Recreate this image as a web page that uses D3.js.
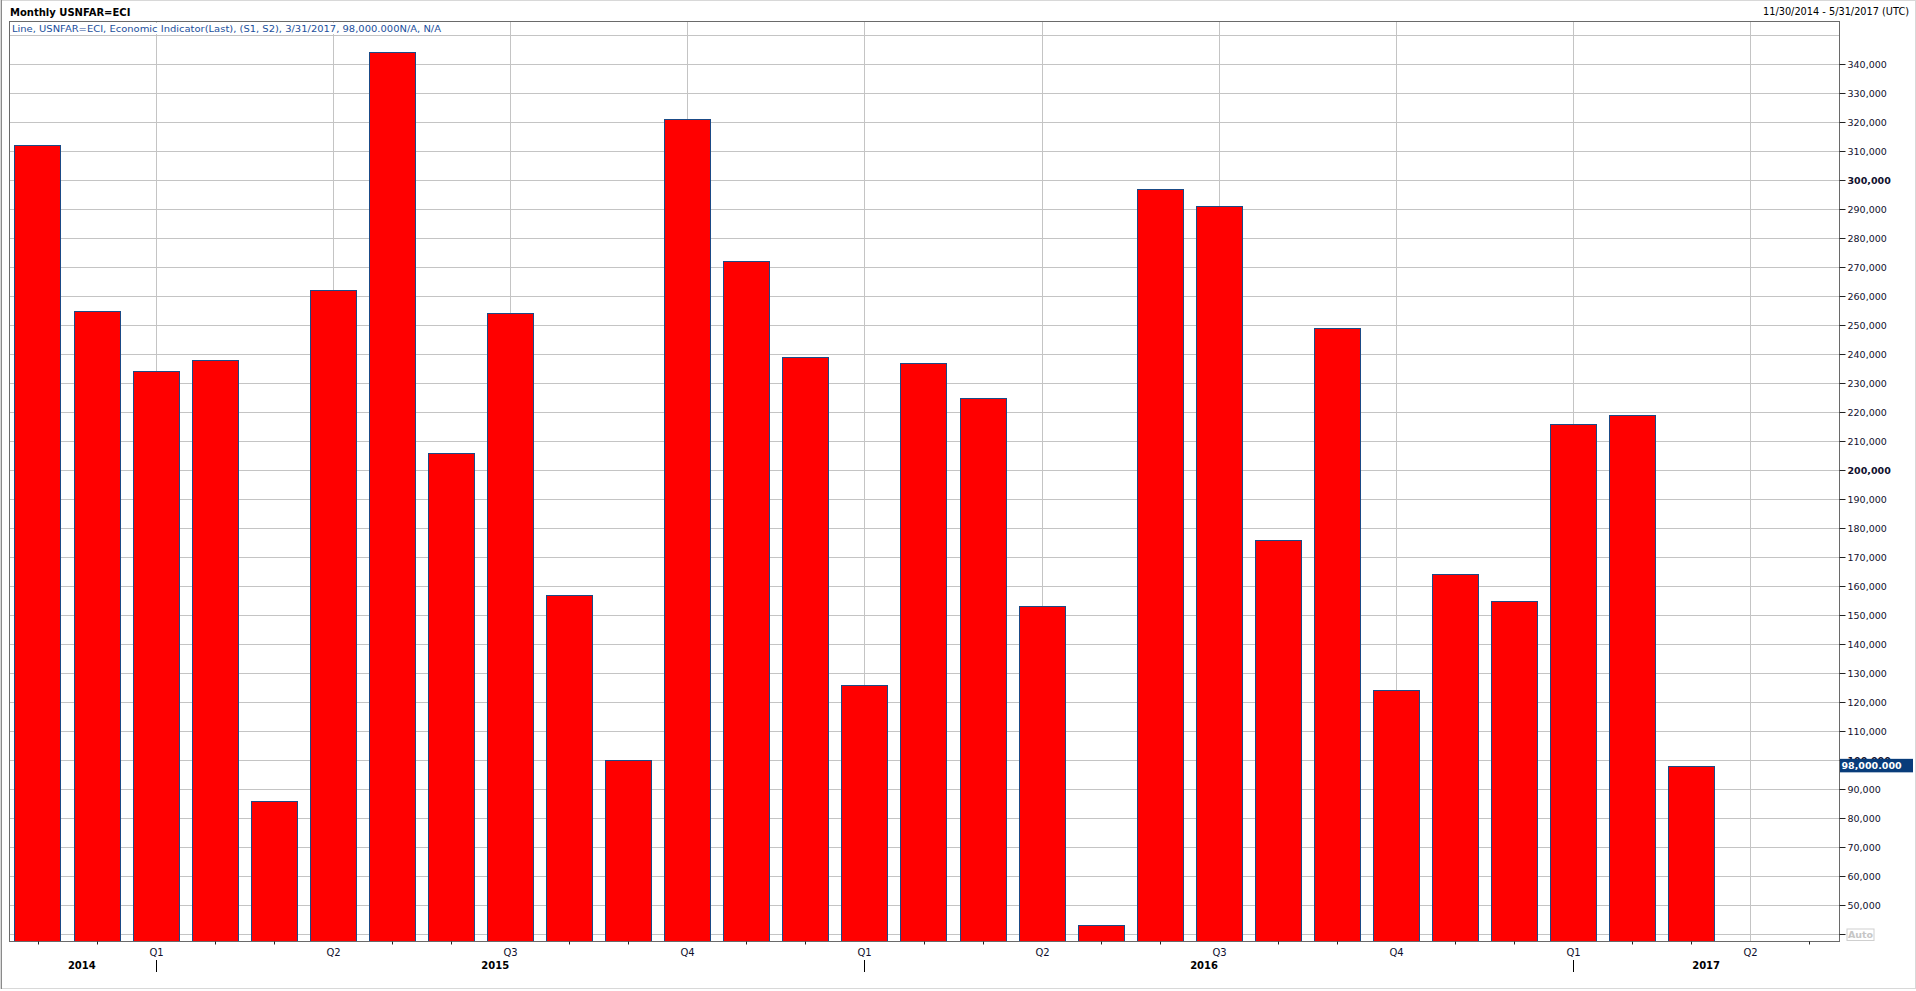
<!DOCTYPE html>
<html>
<head>
<meta charset="utf-8">
<script src="https://cdn.jsdelivr.net/npm/d3@7"></script>
<style>
  html, body { margin: 0; padding: 0; background: #fff; }
  svg { display: block; }
  text { font-family: "DejaVu Sans", Verdana, sans-serif; }
</style>
</head>
<body>
<svg id="chart" width="1916" height="991"></svg>
<script>
// ---------- data ----------
const months = ["2014-11","2014-12","2015-01","2015-02","2015-03","2015-04","2015-05","2015-06",
  "2015-07","2015-08","2015-09","2015-10","2015-11","2015-12","2016-01","2016-02","2016-03",
  "2016-04","2016-05","2016-06","2016-07","2016-08","2016-09","2016-10","2016-11","2016-12",
  "2017-01","2017-02","2017-03","2017-04","2017-05"];
const payrolls = [312000, 255000, 234000, 238000, 86000, 262000, 344000, 206000, 254000,
  157000, 100000, 321000, 272000, 239000, 126000, 237000, 225000, 153000, 43000, 297000,
  291000, 176000, 249000, 124000, 164000, 155000, 216000, 219000, 98000];
const quarterLabels = ["Q1", "Q2", "Q3", "Q4"];
const yLabelTicks = d3.range(50000, 340001, 10000);
const yGridTicks = d3.range(40000, 350001, 10000);
const autoTick = 40000;
const titleText = "Monthly USNFAR=ECI";
const legendText = "Line, USNFAR=ECI, Economic Indicator(Last), (S1, S2), 3/31/2017, 98,000.000N/A, N/A";
const rangeText = "11/30/2014 - 5/31/2017 (UTC)";
const lastValueText = "98,000.000";

// ---------- layout ----------
const plot = { left: 9.5, right: 1839.5, top: 21.5, bottom: 941.5 };
const svg = d3.select("#chart");

const x = d3.scaleBand().domain(months).range([8, 1839])
  .paddingInner(0.22).paddingOuter(0.11);
const y = d3.scaleLinear().domain([37600, 354600]).range([941, 21.7]);

const bars = payrolls.map((v, i) => ({ month: months[i], value: v }));
const center = m => x(m) + x.bandwidth() / 2;
const monthNum = m => +m.slice(5);
const quarterMonths = months.filter(m => (monthNum(m) - 1) % 3 === 0);
const otherMonths = months.filter(m => (monthNum(m) - 1) % 3 !== 0);

// outer frame
svg.append("rect").attr("x", 0.5).attr("y", 0.5).attr("width", 1915).attr("height", 988)
  .attr("fill", "none").attr("stroke", "#d8d8d8");
svg.append("line").attr("x1", 1.5).attr("x2", 1.5).attr("y1", 0).attr("y2", 989)
  .attr("stroke", "#8a8a8a");

// header texts
svg.append("text").attr("x", 10).attr("y", 15.5).attr("font-size", 10).attr("font-weight", "bold")
  .attr("fill", "#000").text(titleText);
svg.append("text").attr("x", 1909).attr("y", 15).attr("font-size", 10).attr("text-anchor", "end")
  .attr("fill", "#000").attr("textLength", 146).attr("lengthAdjust", "spacingAndGlyphs").text(rangeText);

// gridlines
const grid = svg.append("g");
grid.selectAll("line.h").data(yGridTicks).join("line")
  .attr("x1", plot.left).attr("x2", plot.right)
  .attr("y1", d => Math.round(y(d)) + 0.5).attr("y2", d => Math.round(y(d)) + 0.5)
  .attr("stroke", "#c4c4c4");
grid.selectAll("line.v").data(quarterMonths).join("line")
  .attr("x1", d => Math.round(center(d)) + 0.5).attr("x2", d => Math.round(center(d)) + 0.5)
  .attr("y1", plot.top).attr("y2", plot.bottom)
  .attr("stroke", "#c4c4c4");

// legend with white background
svg.append("rect").attr("x", 11).attr("y", 23).attr("width", 433).attr("height", 11).attr("fill", "#fff");
svg.append("text").attr("x", 12).attr("y", 31.5).attr("font-size", 9.5).attr("fill", "#1c4f9c")
  .attr("textLength", 429).attr("lengthAdjust", "spacingAndGlyphs").text(legendText);

// bars
svg.append("g").selectAll("rect").data(bars).join("rect")
  .attr("x", d => Math.round(x(d.month)) + 0.5)
  .attr("width", Math.round(x.bandwidth()))
  .attr("y", d => Math.round(y(d.value)) + 0.5)
  .attr("height", d => plot.bottom - (Math.round(y(d.value)) + 0.5))
  .attr("fill", "#ff0000").attr("stroke", "#1b4a86").attr("stroke-width", 1);

// plot frame
svg.append("rect").attr("x", plot.left).attr("y", plot.top)
  .attr("width", plot.right - plot.left).attr("height", plot.bottom - plot.top)
  .attr("fill", "none").attr("stroke", "#6a6a6a");

// y axis (right)
const yAxis = d3.axisRight(y).tickValues(yLabelTicks).tickSize(6).tickPadding(2)
  .tickFormat(d3.format(","));
const yg = svg.append("g").attr("transform", `translate(${plot.right},0)`).call(yAxis);
yg.select(".domain").remove();
yg.selectAll(".tick").attr("transform", d => `translate(0,${Math.round(y(d)) + 0.5})`);
yg.selectAll(".tick line").attr("stroke", "#222");
yg.selectAll(".tick text").attr("font-family", "DejaVu Sans, sans-serif").attr("font-size", 9.5)
  .attr("fill", "#10102e").attr("font-weight", d => d % 100000 === 0 ? "bold" : "normal");

// Auto tick
const ay = Math.round(y(autoTick)) + 0.5;
svg.append("line").attr("x1", plot.right).attr("x2", plot.right + 6).attr("y1", ay).attr("y2", ay).attr("stroke", "#222");
svg.append("rect").attr("x", 1847).attr("y", ay - 5.5).attr("width", 27).attr("height", 11.5)
  .attr("fill", "#fff").attr("stroke", "#cfcfcf");
svg.append("text").attr("x", 1860.5).attr("y", ay + 3.5).attr("text-anchor", "middle")
  .attr("font-size", 9.5).attr("font-weight", "bold").attr("fill", "#c6c6c6").text("Auto");

// last value box
const lastY = y(payrolls[payrolls.length - 1]);
svg.append("rect").attr("x", plot.right + 0.5).attr("y", lastY - 7).attr("width", 73).attr("height", 13.5)
  .attr("fill", "#083c7a");
svg.append("text").attr("x", plot.right + 2).attr("y", lastY + 3.5).attr("font-size", 9.5)
  .attr("font-weight", "bold").attr("fill", "#fff").text(lastValueText);

// x axis: month ticks
const xMinor = d3.axisBottom(x).tickValues(otherMonths).tickSize(3).tickFormat("");
const xg = svg.append("g").attr("transform", `translate(0,${plot.bottom})`).call(xMinor);
xg.select(".domain").remove();
xg.selectAll(".tick").attr("transform", d => `translate(${Math.round(center(d)) + 0.5},0)`);
xg.selectAll(".tick line").attr("stroke", "#222");

// quarter labels
const xQuarter = d3.axisBottom(x).tickValues(quarterMonths).tickSize(0).tickPadding(0)
  .tickFormat(m => quarterLabels[(monthNum(m) - 1) / 3]);
const qg = svg.append("g").attr("transform", `translate(0,${plot.bottom})`).call(xQuarter);
qg.select(".domain").remove();
qg.selectAll(".tick").attr("transform", d => `translate(${Math.round(center(d)) + 0.5},0)`);
qg.selectAll(".tick text").attr("font-family", "DejaVu Sans, sans-serif").attr("font-size", 10)
  .attr("fill", "#10102e").attr("dy", null).attr("y", 14);

// year boundary ticks and year labels
const janMonths = months.filter(m => monthNum(m) === 1);
svg.append("g").selectAll("line").data(janMonths).join("line")
  .attr("x1", d => Math.round(center(d)) + 0.5).attr("x2", d => Math.round(center(d)) + 0.5)
  .attr("y1", 960).attr("y2", 972).attr("stroke", "#000");

const years = Array.from(new Set(months.map(m => m.slice(0, 4))));
const yearPos = years.map(yr => {
  const ms = months.filter(m => m.slice(0, 4) === yr);
  const first = center(ms[0]);
  const last = x(ms[ms.length - 1]) + x.step() - (x.step() - x.bandwidth()) / 2;
  return { yr, pos: (first + last) / 2 };
});
svg.append("g").selectAll("text").data(yearPos).join("text")
  .attr("x", d => d.pos).attr("y", 969).attr("text-anchor", "middle")
  .attr("font-size", 10).attr("font-weight", "bold").attr("fill", "#000").text(d => d.yr);
</script>
</body>
</html>
